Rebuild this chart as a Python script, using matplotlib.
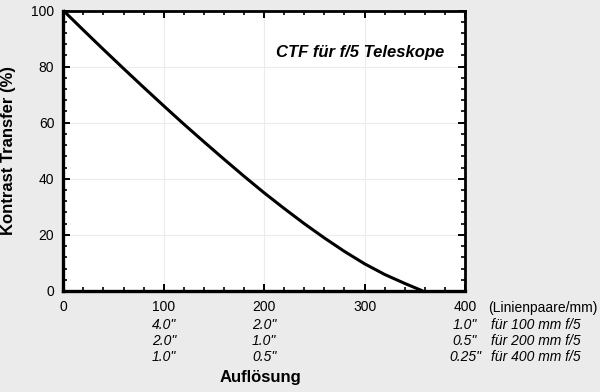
import matplotlib
matplotlib.use("Agg")
import matplotlib.pyplot as plt
from matplotlib.ticker import MultipleLocator
from matplotlib.transforms import blended_transform_factory

# Data
resolution_lp_mm = [0, 20, 40, 60, 80, 100, 120, 140, 160, 180, 200, 220, 240,
                    260, 280, 300, 320, 340, 358]
contrast_pct = [100, 93.0, 86.1, 79.3, 72.6, 66.0, 59.5, 53.2, 47.0, 40.9, 35.0,
                29.4, 24.0, 18.9, 14.1, 9.7, 5.9, 2.7, 0]

x_ticks = [0, 100, 200, 300, 400]
y_ticks = [0, 20, 40, 60, 80, 100]

extra_cols = [100, 200, 400]
arcsec_100mm = ['4.0"', '2.0"', '1.0"']
arcsec_200mm = ['2.0"', '1.0"', '0.5"']
arcsec_400mm = ['1.0"', '0.5"', '0.25"']
telescopes = ['für 100 mm f/5', 'für 200 mm f/5', 'für 400 mm f/5']
unit_label = '(Linienpaare/mm)'
title = 'CTF für f/5 Teleskope'

plt.rcParams['font.family'] = ['Liberation Sans', 'DejaVu Sans']

W, H = 600, 392
fig = plt.figure(figsize=(6.0, 3.92), dpi=100)
bg = '#ebebeb'
fig.patch.set_facecolor(bg)
ax = fig.add_axes([63.3 / W, 1 - 291 / H, (465 - 63.3) / W, (291 - 10.5) / H])
ax.set_facecolor('white')

ax.plot(resolution_lp_mm, contrast_pct, color='black', lw=2.2,
        solid_capstyle='butt', solid_joinstyle='round', clip_on=False, zorder=3)

ax.set_xlim(0, 400)
ax.set_ylim(0, 100)
ax.set_xticks(x_ticks)
ax.set_yticks(y_ticks)
ax.xaxis.set_minor_locator(MultipleLocator(20))
ax.yaxis.set_minor_locator(MultipleLocator(4))
ax.tick_params(which='both', direction='in', top=True, right=True, colors='black')
ax.tick_params(which='major', length=5, width=1.4, labelsize=10, pad=6.5)
ax.tick_params(which='minor', length=3, width=1.2)
ax.grid(True, which='major', color='#ececec', lw=0.8)
ax.set_axisbelow(True)
for s in ax.spines.values():
    s.set_linewidth(2.0)
ax.spines['bottom'].set_linewidth(2.4)
ax.spines['left'].set_linewidth(2.4)

ax.set_ylabel('Kontrast Transfer (%)', fontsize=12, fontweight='bold')
ax.yaxis.set_label_coords(-0.118, 0.5)
ax.set_xlabel('Auflösung', fontsize=12, fontweight='bold')
ax.xaxis.label.set_va('center')
ax.xaxis.set_label_coords(0.492, -0.31)

ax.text(0.738, 0.85, title, transform=ax.transAxes, ha='center', va='center',
        fontsize=12, fontweight='bold', fontstyle='italic')

tr = blended_transform_factory(ax.transData, fig.transFigure)
rows_y = [325, 341, 357]
for i, xc in enumerate(extra_cols):
    for row, vals in zip(rows_y, [arcsec_100mm, arcsec_200mm, arcsec_400mm]):
        ax.text(xc, 1 - row / H, vals[i], transform=tr, ha='center', va='center',
                fontsize=10, fontstyle='italic', clip_on=False)
for row, t in zip(rows_y, telescopes):
    ax.text(425.5, 1 - row / H, t, transform=tr, ha='left', va='center',
            fontsize=10, fontstyle='italic', clip_on=False)
ax.text(423.5, 1 - 308 / H, unit_label, transform=tr, ha='left', va='center',
        fontsize=10, clip_on=False)

fig.savefig('out.png', dpi=100, facecolor=bg)
